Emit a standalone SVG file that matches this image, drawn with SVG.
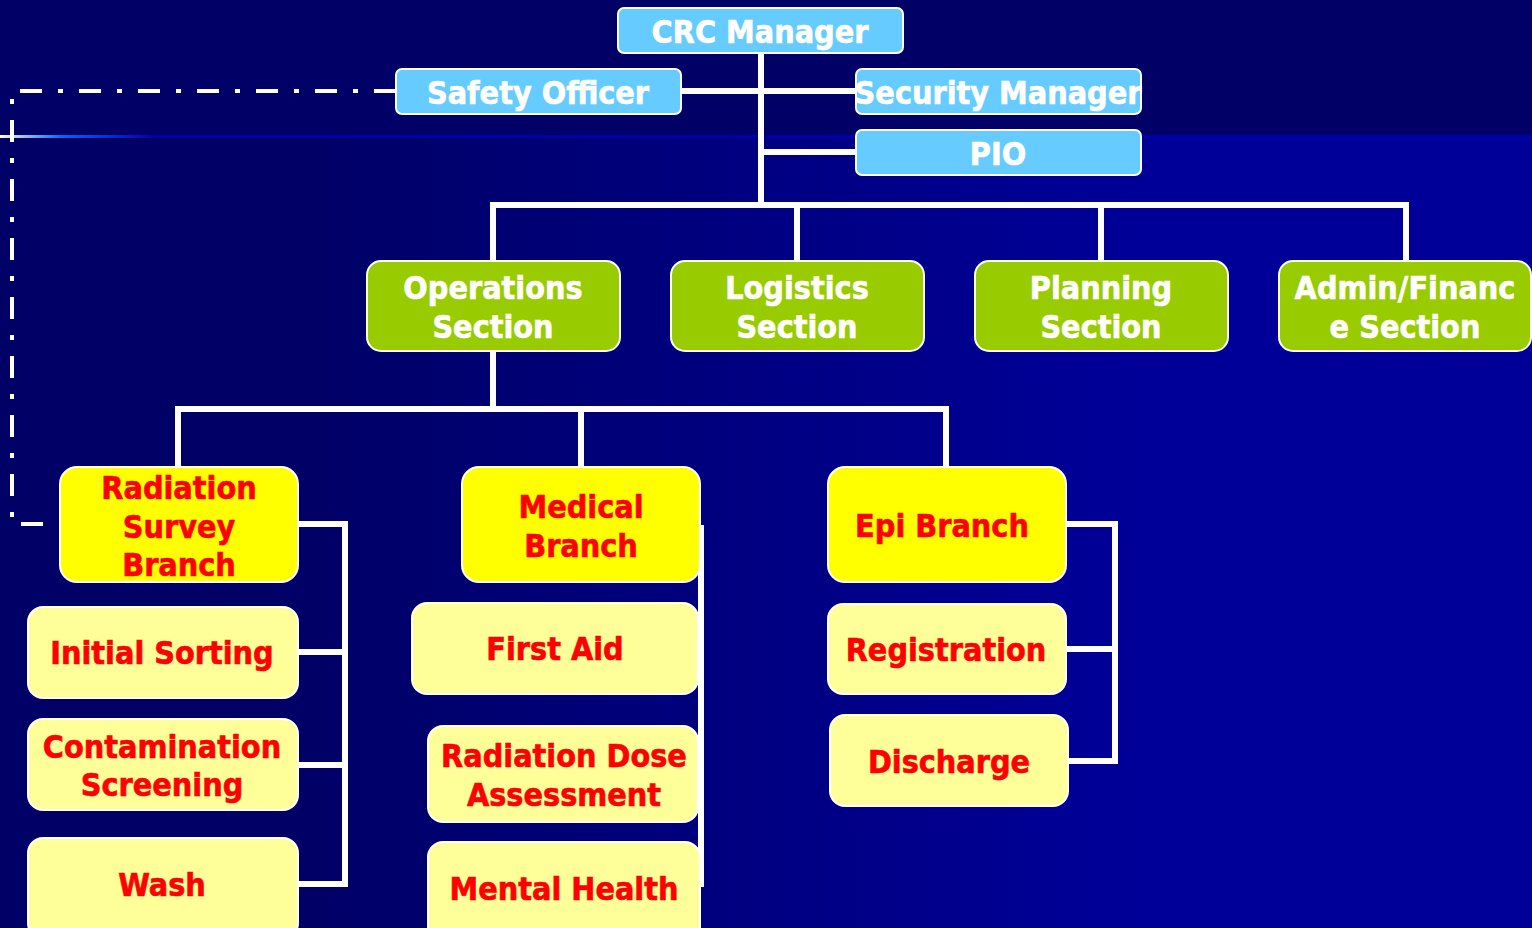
<svg xmlns="http://www.w3.org/2000/svg" width="1532" height="928" viewBox="0 0 1532 928">
<defs>
<linearGradient id="bgLow" x1="0" y1="0" x2="1532" y2="0" gradientUnits="userSpaceOnUse">
<stop offset="0.2" stop-color="#000066"/>
<stop offset="0.75" stop-color="#000099"/>
</linearGradient>
<linearGradient id="rule" x1="0" y1="0" x2="1532" y2="0" gradientUnits="userSpaceOnUse">
<stop offset="0" stop-color="#FFFFCC"/>
<stop offset="0.04" stop-color="#0066FF"/>
<stop offset="0.1" stop-color="#0000AA"/>
<stop offset="1" stop-color="#0000AA"/>
</linearGradient>
<style>
.t{font-family:"DejaVu Sans Condensed","DejaVu Sans","Liberation Sans",sans-serif;font-stretch:condensed;font-weight:bold;text-anchor:middle;stroke-width:0.6;paint-order:stroke}
.w{fill:#FFFFFF;stroke:#FFFFFF}
.r{fill:#FF0000;stroke:#FF0000}
.blue{fill:#66CCFF;stroke:#FFFFFF;stroke-width:2}
.green{fill:#99CC00;stroke:#FFFFFF;stroke-width:2}
.yel{fill:#FFFF00;stroke:#FFFFFF;stroke-width:2}
.ly{fill:#FFFF99;stroke:#FFFFFF;stroke-width:2}
.c{fill:none;stroke:#FFFFFF;stroke-width:6}
.dd{fill:none;stroke:#FFFFFF;stroke-width:4;stroke-dasharray:22 16 5 16}
</style>
</defs>
<rect x="0" y="0" width="1532" height="928" fill="url(#bgLow)"/>
<rect x="0" y="0" width="1532" height="136" fill="#000066"/>
<rect x="0" y="135" width="1532" height="3" fill="url(#rule)"/>

<g id="connectors">
<path class="c" d="M761 53 V205"/>
<path class="c" d="M681 91 H856"/>
<path class="c" d="M761 152 H856"/>
<path class="c" d="M493 261 V205 H1406 V261"/>
<path class="c" d="M797 205 V261"/>
<path class="c" d="M1101 205 V261"/>
<path class="c" d="M493 351 V409"/>
<path class="c" d="M178 467 V409 H946 V467"/>
<path class="c" d="M581 409 V467"/>
<path class="c" d="M298 524 H345 V884 H298"/>
<path class="c" d="M298 652 H345"/>
<path class="c" d="M298 765 H345"/>
<path class="c" d="M701 525 V887"/>
<path class="c" d="M1066 524 H1115 V761 H1068"/>
<path class="c" d="M1066 649 H1115"/>
<path class="dd" d="M396 91 H12 V524 H60"/>
</g>

<g id="crc-manager"><rect class="blue" x="618" y="8" width="285" height="45" rx="6"/><text class="t w" x="760" y="43" font-size="32">CRC Manager</text></g>
<g id="safety-officer"><rect class="blue" x="396" y="69" width="285" height="45" rx="6"/><text class="t w" x="538" y="104" font-size="32">Safety Officer</text></g>
<g id="security-manager"><rect class="blue" x="856" y="69" width="285" height="45" rx="6"/><text class="t w" x="998" y="104" font-size="32">Security Manager</text></g>
<g id="pio"><rect class="blue" x="856" y="130" width="285" height="45" rx="6"/><text class="t w" x="998" y="165" font-size="32">PIO</text></g>

<g id="operations-section"><rect class="green" x="367" y="261" width="253" height="90" rx="14"/><text class="t w" x="493" y="299" font-size="32">Operations</text><text class="t w" x="493" y="338" font-size="32">Section</text></g>
<g id="logistics-section"><rect class="green" x="671" y="261" width="253" height="90" rx="14"/><text class="t w" x="797" y="299" font-size="32">Logistics</text><text class="t w" x="797" y="338" font-size="32">Section</text></g>
<g id="planning-section"><rect class="green" x="975" y="261" width="253" height="90" rx="14"/><text class="t w" x="1101" y="299" font-size="32">Planning</text><text class="t w" x="1101" y="338" font-size="32">Section</text></g>
<g id="admin-finance-section"><rect class="green" x="1279" y="261" width="252" height="90" rx="14"/><text class="t w" x="1405" y="299" font-size="32">Admin/Financ</text><text class="t w" x="1405" y="338" font-size="32">e Section</text></g>

<g id="radiation-survey-branch"><rect class="yel" x="60" y="467" width="238" height="115" rx="17"/><text class="t r" x="179" y="499" font-size="32">Radiation</text><text class="t r" x="179" y="538" font-size="32">Survey</text><text class="t r" x="179" y="576" font-size="32">Branch</text></g>
<g id="medical-branch"><rect class="yel" x="462" y="467" width="238" height="115" rx="17"/><text class="t r" x="581" y="518" font-size="32">Medical</text><text class="t r" x="581" y="557" font-size="32">Branch</text></g>
<g id="epi-branch"><rect class="yel" x="828" y="467" width="238" height="115" rx="17"/><text class="t r" x="942" y="537" font-size="32">Epi Branch</text></g>

<g id="initial-sorting"><rect class="ly" x="28" y="607" width="270" height="91" rx="15"/><text class="t r" x="162" y="664" font-size="32">Initial Sorting</text></g>
<g id="contamination-screening"><rect class="ly" x="28" y="719" width="270" height="91" rx="15"/><text class="t r" x="162" y="758" font-size="32">Contamination</text><text class="t r" x="162" y="796" font-size="32">Screening</text></g>
<g id="wash"><rect class="ly" x="28" y="838" width="270" height="100" rx="15"/><text class="t r" x="162" y="896" font-size="32">Wash</text></g>

<g id="first-aid"><rect class="ly" x="412" y="603" width="286" height="91" rx="15"/><text class="t r" x="555" y="660" font-size="32">First Aid</text></g>
<g id="radiation-dose-assessment"><rect class="ly" x="428" y="726" width="270" height="96" rx="15"/><text class="t r" x="564" y="767" font-size="32">Radiation Dose</text><text class="t r" x="564" y="806" font-size="32">Assessment</text></g>
<g id="mental-health"><rect class="ly" x="428" y="842" width="272" height="100" rx="15"/><text class="t r" x="564" y="900" font-size="32">Mental Health</text></g>

<g id="registration"><rect class="ly" x="828" y="604" width="238" height="90" rx="15"/><text class="t r" x="946" y="661" font-size="32">Registration</text></g>
<g id="discharge"><rect class="ly" x="830" y="715" width="238" height="91" rx="15"/><text class="t r" x="949" y="773" font-size="32">Discharge</text></g>
</svg>
